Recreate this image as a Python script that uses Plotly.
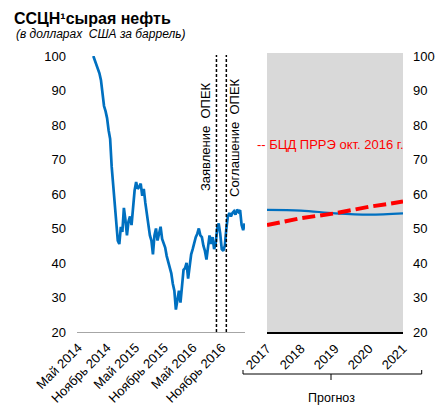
import pandas as pd
import plotly.graph_objects as go

# ---- data ----
hist_start = "2014-08-05"
hist_end = "2017-03-27"
hist_values = [
    100, 98.8, 97.5, 96.5, 95, 93, 89, 85.5, 84, 82,
    78.5, 76, 68, 62, 57.5, 52, 46.5, 45.5, 50.5, 49,
    56, 52.5, 48, 52, 53.5, 51, 57, 61, 63.5, 61.5,
    62, 63, 59.5, 61.5, 57.5, 54, 51.5, 48, 46.5, 42.5,
    48, 50, 46.5, 48.5, 50.5, 47, 45.5, 44.5, 42, 40.5,
    38.5, 37, 34, 32, 26.5, 29.5, 32, 28.5, 34, 38,
    38.5, 40, 35.5, 40, 42.5, 44, 46, 47.5, 48.5, 50,
    48, 47.5, 45, 43.5, 41, 45.5, 48, 45.5, 47.5, 44,
    45.5, 50, 51.5, 48.5, 44, 43.5, 45, 50, 53.5, 54.5,
    53.5, 54.5, 55, 54, 55.5, 54.8, 55.3, 51, 49.5, 51.5,
]
hist_dates = pd.date_range(hist_start, hist_end, periods=len(hist_values))

hist_tickvals = ["2014-05-01", "2014-11-01", "2015-05-01", "2015-11-01", "2016-05-01", "2016-11-01"]
hist_ticktext = ["Май 2014", "Ноябрь 2014", "Май 2015", "Ноябрь 2015", "Май 2016", "Ноябрь 2016"]

opec_statement = "2016-09-28"
opec_agreement = "2016-11-30"

fc_years = [2017, 2018, 2019, 2020, 2021]
fc_futures = [55.4, 55.2, 54.4, 54.0, 54.4]
fc_weo = [51.0, 53.0, 54.4, 56.3, 57.8]

y_ticks = [20, 30, 40, 50, 60, 70, 80, 90, 100]

# ---- layout helpers ----
W, H = 437, 406
def px(x):
    return x / W
def py(y):
    return 1 - y / H

BLUE = "#0070C0"
RED = "#FF0000"
FONT = "Liberation Sans, Arial, sans-serif"

fig = go.Figure()
fig.add_trace(go.Scatter(x=hist_dates, y=hist_values, mode="lines",
                         line=dict(color=BLUE, width=2.7), xaxis="x", yaxis="y",
                         showlegend=False, hoverinfo="skip"))
fig.add_trace(go.Scatter(x=fc_years, y=fc_futures, mode="lines",
                         line=dict(color=BLUE, width=2.2, shape="spline"), xaxis="x2", yaxis="y2",
                         showlegend=False, hoverinfo="skip"))
fig.add_trace(go.Scatter(x=fc_years, y=fc_weo, mode="lines",
                         line=dict(color=RED, width=4, dash="13px,5px"), xaxis="x2", yaxis="y2",
                         showlegend=False, hoverinfo="skip"))

ydom = [py(332), py(56)]
xtickfont = dict(family=FONT, size=13, color="#000000")
ytickfont = dict(family=FONT, size=13, color="#000000")

fig.update_layout(
    width=W, height=H,
    margin=dict(l=0, r=0, t=0, b=0),
    paper_bgcolor="white", plot_bgcolor="rgba(0,0,0,0)",
    font=dict(family=FONT, color="#000000"),
    xaxis=dict(domain=[px(77), px(245)], type="date",
               range=["2014-04-23", "2017-03-29"],
               tickmode="array", tickvals=hist_tickvals, ticktext=hist_ticktext,
               tickangle=-45, tickfont=xtickfont, showgrid=False, zeroline=False,
               showline=True, linecolor="#A6A6A6", linewidth=1, ticks="",
               ticklabelstandoff=2, automargin=False, anchor="y"),
    yaxis=dict(domain=ydom, range=[20, 100], tickvals=y_ticks, tickfont=ytickfont,
               showgrid=False, zeroline=False, showline=False, ticks="",
               ticklabelstandoff=10, automargin=False, anchor="x"),
    xaxis2=dict(domain=[px(267), px(403)], range=[2017, 2021],
                tickvals=fc_years, ticktext=[str(v) for v in fc_years],
                tickangle=-45, tickfont=xtickfont, showgrid=False, zeroline=False,
                showline=True, linecolor="#000000", linewidth=2, ticks="",
                ticklabelstandoff=2, automargin=False, anchor="y2"),
    yaxis2=dict(domain=ydom, range=[20, 100], tickvals=y_ticks, tickfont=ytickfont,
                side="right", showgrid=False, zeroline=False, showline=False, ticks="",
                ticklabelstandoff=9, automargin=False, anchor="x2"),
)

shapes = [
    dict(type="rect", xref="x2 domain", yref="paper", x0=0, x1=1, y0=py(332), y1=py(53),
         fillcolor="#D9D9D9", line=dict(width=0), layer="below"),
    dict(type="line", xref="x", yref="paper", x0=opec_statement, x1=opec_statement,
         y0=py(332), y1=py(55), line=dict(color="#000000", width=1.5, dash="3px,2px")),
    dict(type="line", xref="x", yref="paper", x0=opec_agreement, x1=opec_agreement,
         y0=py(332), y1=py(55), line=dict(color="#000000", width=1.5, dash="3px,2px")),
    # bracket "Прогноз"
    dict(type="line", xref="paper", yref="paper", x0=px(243), x1=px(421.7), y0=py(374), y1=py(374),
         line=dict(color="#000000", width=1)),
    dict(type="line", xref="paper", yref="paper", x0=px(243), x1=px(243), y0=py(374), y1=py(370),
         line=dict(color="#000000", width=1)),
    dict(type="line", xref="paper", yref="paper", x0=px(421.7), x1=px(421.7), y0=py(374), y1=py(370),
         line=dict(color="#000000", width=1)),
    dict(type="line", xref="paper", yref="paper", x0=px(331), x1=px(331), y0=py(374), y1=py(380),
         line=dict(color="#000000", width=1)),
]
fig.update_layout(shapes=shapes)

annotations = [
    dict(text="<b>ССЦН¹сырая нефть</b>", x=px(12), y=py(18), xref="paper", yref="paper",
         xanchor="left", yanchor="middle", showarrow=False, font=dict(family=FONT, size=16)),
    dict(text="<i>(в долларах  США за баррель)</i>", x=px(14), y=py(34), xref="paper", yref="paper",
         xanchor="left", yanchor="middle", showarrow=False, font=dict(family=FONT, size=12)),
    dict(text="Заявление  ОПЕК", x=px(205), y=py(137), xref="paper", yref="paper",
         xanchor="center", yanchor="middle", textangle=-90, showarrow=False,
         font=dict(family=FONT, size=13)),
    dict(text="Соглашение  ОПЕК", x=px(235), y=py(138), xref="paper", yref="paper",
         xanchor="center", yanchor="middle", textangle=-90, showarrow=False,
         font=dict(family=FONT, size=13)),
    dict(text="-- БЦД ПРРЭ окт. 2016 г.", x=px(255), y=py(144), xref="paper", yref="paper",
         xanchor="left", yanchor="middle", showarrow=False,
         font=dict(family=FONT, size=13, color=RED)),
    dict(text="Прогноз", x=px(331), y=py(398), xref="paper", yref="paper",
         xanchor="center", yanchor="middle", showarrow=False,
         font=dict(family=FONT, size=12.5)),
]
fig.update_layout(annotations=annotations)

fig.write_html("out.html", config={"responsive": False, "displayModeBar": False},
               post_script="document.body.style.margin='0';document.body.style.padding='0';")
